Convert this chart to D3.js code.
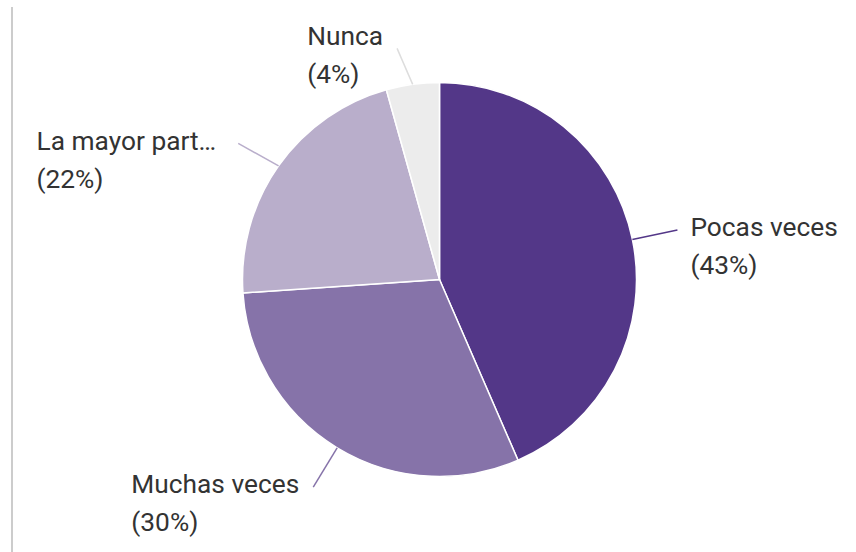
<!DOCTYPE html>
<html>
<head>
<meta charset="utf-8">
<script src="https://cdn.jsdelivr.net/npm/d3@7"></script>
<style>
  body { margin: 0; background: #fff; }
  text { font-family: Roboto, sans-serif; fill: #333; }
</style>
</head>
<body>
<div id="viz"></div>
<script>
// data
var categories = ['Pocas veces', 'Muchas veces', 'La mayor part…', 'Nunca'];
var counts = [10, 7, 5, 1];
var colors = ['#533788', '#8673a9', '#b9aecb', '#ececec'];
var leaderColors = ['#533788', '#8673a9', '#b9aecb', '#dddddd'];

var width = 856;
var height = 552;
var cx = 439.5, cy = 279.5;
var radius = 197;
var leaderR = 243;
var fontSize = '26.3px';
var lineGap = 38;

// small tweaks for where a leader bends to its label
var labelNudge = {
    'La mayor part…': { da: -0.02, r: 243, dy: 1, dx: -8 },
    'Nunca': { da: -0.045, r: 235, dy: -9, dx: 0 }
};

var svg = d3.select('#viz')
    .append('svg')
    .attr('width', width)
    .attr('height', height);

// thin gray rule on the left
svg.append('line')
    .attr('x1', 12).attr('x2', 12)
    .attr('y1', 7).attr('y2', height)
    .attr('stroke', '#cccccc')
    .attr('stroke-width', 2);

var data = categories.map(function(c, i) {
    return { name: c, value: counts[i], color: colors[i], lc: leaderColors[i] };
});
var total = d3.sum(counts);

var pie = d3.pie().sort(null).value(function(d) { return d.value; });
var arc = d3.arc().innerRadius(0).outerRadius(radius);

var g = svg.append('g')
    .attr('transform', 'translate(' + cx + ',' + cy + ')');

var arcs = pie(data);

g.selectAll('.slice')
    .data(arcs)
    .enter()
    .append('path')
    .attr('class', 'slice')
    .attr('d', arc)
    .attr('fill', function(d) { return d.data.color; })
    .attr('stroke', '#fff')
    .attr('stroke-width', 1.5);

arcs.forEach(function(d) {
    var mid = (d.startAngle + d.endAngle) / 2;
    var nudge = labelNudge[d.data.name] || { da: 0, r: leaderR, dy: 0, dx: 0 };
    var x0 = Math.sin(mid) * radius, y0 = -Math.cos(mid) * radius;
    var a1 = mid + nudge.da;
    var x1 = Math.sin(a1) * nudge.r, y1 = -Math.cos(a1) * nudge.r;

    g.append('line')
        .attr('x1', x0).attr('y1', y0)
        .attr('x2', x1).attr('y2', y1)
        .attr('stroke', d.data.lc)
        .attr('stroke-width', 1.5);

    var right = x1 > 0;
    var tx = (right ? x1 + 13 : x1 - 14) + nudge.dx;
    var ty = y1 + 6 + nudge.dy;
    var pct = Math.round(d.data.value / total * 100);

    var t = g.append('text')
        .attr('x', tx)
        .attr('y', ty)
        .attr('text-anchor', right ? 'start' : 'end')
        .style('font-size', fontSize)
        .text(d.data.name);

    // second line left-aligned with first
    var w = t.node().getComputedTextLength();
    g.append('text')
        .attr('class', 'pct')
        .attr('x', right ? tx : tx - w)
        .attr('y', ty + lineGap)
        .style('font-size', fontSize)
        .text('(' + pct + '%)');
});
</script>
</body>
</html>
